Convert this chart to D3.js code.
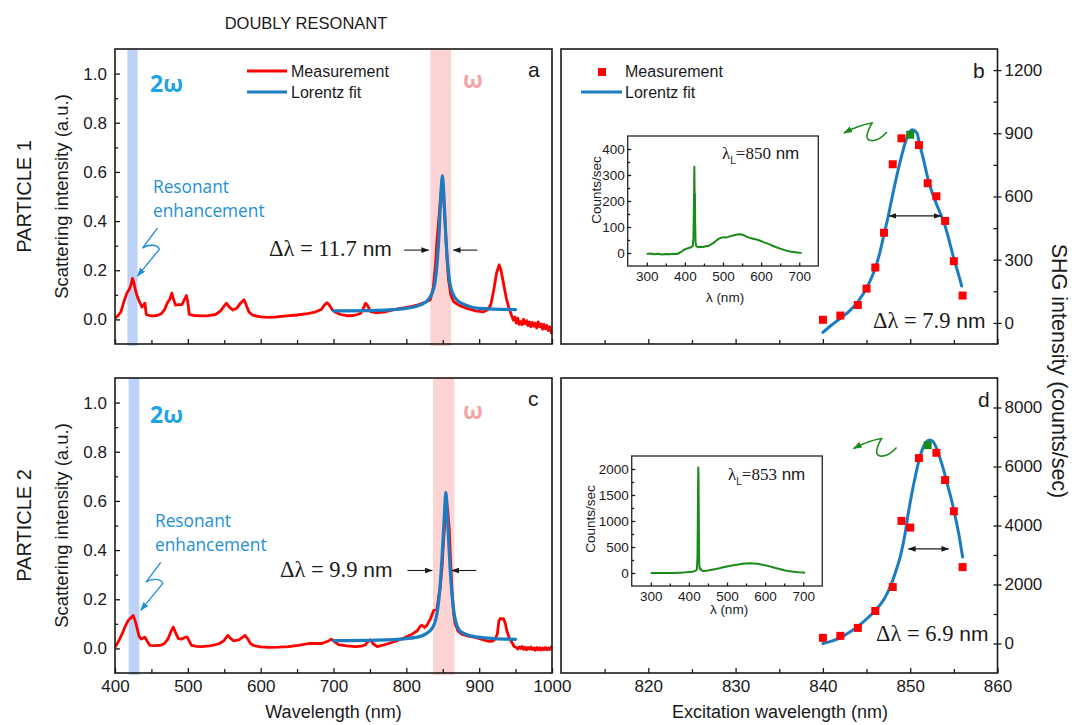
<!DOCTYPE html>
<html>
<head>
<meta charset="utf-8">
<script src="https://cdn.jsdelivr.net/npm/d3@7"></script>
<style>
  body { margin: 0; background: #fff; }
</style>
</head>
<body>
<div id="chart"></div>
<script>
// ---- tick values ----
const wlTicks = [400, 500, 600, 700, 800, 900, 1000];
const wlMinor = [450, 550, 650, 750, 850, 950];
const scatTicks = [0, 0.2, 0.4, 0.6, 0.8, 1.0];
const scatMinor = [0.1, 0.3, 0.5, 0.7, 0.9];
const excTicks = [820, 830, 840, 850, 860];
const excMinor = [815, 825, 835, 845, 855];
const shgTicksB = [0, 300, 600, 900, 1200];
const shgMinorB = [150, 450, 750, 1050];
const shgTicksD = [0, 2000, 4000, 6000, 8000];
const shgMinorD = [1000, 3000, 5000, 7000];
const insetXTicks = [300, 400, 500, 600, 700];
const insetXMinor = [350, 450, 550, 650];
const insetYTicksB = [0, 100, 200, 300, 400];
const insetYMinorB = [50, 150, 250, 350];
const insetYTicksD = [0, 500, 1000, 1500, 2000];
const insetYMinorD = [250, 750, 1250, 1750];

// ---- dark-field scattering spectra [wavelength nm, intensity a.u.] ----
const measA = [[400,0.005],[404,0.015],[408,0.03],[412,0.07],[416,0.105],[420,0.125],[422,0.14],[424,0.167],[426,0.15],[428,0.12],[431,0.09],[434,0.07],[437,0.05],[439,0.058],[441,0.066],[443,0.02],[448,0.015],[453,0.014],[458,0.016],[464,0.024],[468,0.04],[472,0.068],[475,0.08],[478,0.107],[480,0.085],[483,0.058],[488,0.06],[492,0.06],[496,0.085],[498,0.097],[500,0.07],[502,0.02],[508,0.016],[517,0.014],[528,0.015],[538,0.02],[545,0.035],[550,0.055],[553,0.066],[557,0.05],[562,0.038],[567,0.045],[572,0.065],[577,0.08],[580,0.06],[584,0.03],[589,0.017],[600,0.01],[610,0.008],[622,0.01],[636,0.014],[650,0.018],[664,0.024],[675,0.03],[683,0.04],[688,0.06],[691,0.068],[694,0.06],[698,0.04],[703,0.028],[710,0.02],[718,0.015],[728,0.016],[737,0.024],[741,0.045],[744,0.066],[747,0.055],[751,0.032],[758,0.028],[769,0.03],[780,0.038],[792,0.045],[803,0.05],[815,0.058],[826,0.07],[833,0.08],[837,0.13],[840,0.22],[842,0.32],[845,0.42],[847,0.5],[849,0.55],[851,0.5],[853.5,0.38],[856,0.24],[858,0.16],[861,0.1],[865,0.072],[872,0.058],[883,0.045],[895,0.035],[906,0.031],[912,0.04],[916,0.06],[920,0.12],[924,0.19],[927.5,0.222],[930,0.2],[933.5,0.145],[937,0.09],[940.5,0.05],[944,0.02],[947,-0.003],[949,0.01],[951,-0.015],[953,0.005],[955,-0.02],[957,-0.008],[959,-0.022],[961,0.0],[963,-0.018],[965,-0.005],[967,-0.025],[969,-0.01],[971,-0.03],[973,-0.012],[975,-0.028],[977,-0.015],[979,-0.035],[981,-0.01],[983,-0.03],[985,-0.018],[987,-0.04],[989,-0.02],[991,-0.038],[993,-0.025],[995,-0.045],[997,-0.03],[999,-0.055],[1000,-0.045]];
const fitA = [[700,0.035],[760,0.037],[800,0.045],[820,0.06],[830,0.08],[838,0.13],[842,0.22],[845,0.35],[847,0.48],[849.5,0.585],[852,0.48],[854,0.35],[857,0.22],[861,0.13],[869,0.08],[880,0.06],[900,0.045],[950,0.04]];
const measC = [[400,0.005],[405,0.03],[410,0.06],[414,0.09],[418,0.113],[422,0.125],[425,0.134],[428,0.11],[430,0.086],[433,0.05],[436,0.038],[439,0.042],[441,0.046],[444,0.03],[448,0.012],[455,0.011],[462,0.012],[468,0.02],[473,0.04],[477,0.07],[480,0.087],[483,0.065],[487,0.04],[492,0.038],[496,0.045],[499,0.047],[502,0.03],[505,0.012],[512,0.008],[519,0.007],[530,0.01],[542,0.018],[549,0.03],[555,0.053],[559,0.04],[563,0.031],[570,0.035],[575,0.045],[578.5,0.053],[582,0.04],[586,0.02],[590,0.012],[600,0.006],[611,0.004],[625,0.005],[638,0.007],[652,0.012],[666,0.02],[684,0.02],[693,0.03],[697,0.038],[701,0.028],[707,0.015],[718,0.01],[730,0.007],[738,0.009],[744,0.015],[748,0.03],[750.5,0.035],[754,0.02],[760,0.007],[770,0.015],[780,0.024],[790,0.035],[799,0.045],[808,0.058],[815,0.072],[819,0.09],[821.5,0.094],[825,0.085],[828,0.093],[833,0.12],[837.5,0.154],[842,0.16],[844,0.2],[846.5,0.25],[849,0.33],[851,0.43],[853,0.52],[855.5,0.59],[857,0.56],[859,0.48],[861,0.34],[862.7,0.235],[865,0.14],[867,0.1],[871,0.07],[876,0.058],[885,0.05],[895,0.045],[905,0.036],[913,0.029],[919,0.03],[922,0.038],[925,0.06],[927,0.11],[929,0.122],[931,0.12],[933.5,0.121],[936,0.1],[938,0.072],[941,0.045],[945,0.024],[948,0.008],[951,0.004],[953,-0.002],[955,0.006],[957,0.0],[959,0.008],[961,-0.004],[963,0.005],[965,-0.006],[967,0.004],[969,-0.003],[971,0.006],[973,-0.005],[975,0.002],[977,-0.008],[979,0.004],[981,-0.006],[983,0.003],[985,-0.007],[987,0.002],[989,-0.005],[991,0.004],[993,-0.006],[995,0.002],[997,-0.004],[999,0.006],[1000,0.002]];
const fitC = [[700,0.032],[760,0.034],[800,0.04],[820,0.05],[835,0.08],[842,0.14],[846,0.24],[849,0.37],[852,0.53],[854.3,0.635],[857,0.5],[860,0.33],[863,0.21],[867,0.12],[874,0.07],[890,0.05],[920,0.04],[950,0.037]];
const bandsA = { blue: [417, 431], pink: [833, 861.5] };
const bandsC = { blue: [418.7, 433.4], pink: [836.6, 866] };

// ---- SHG excitation spectra [excitation nm, counts/sec] ----
const shgB = [[840,15],[842,35],[844,85],[845,163],[846,263],[847,428],[848,753],[849,876],[850,893],[851,844],[852,663],[853,601],[854,484],[855,293],[856,130]];
const fitB = [[840,-45],[841,-10],[842,22],[843,55],[844,100],[845,165],[846,260],[846.5,330],[847,420],[847.5,510],[848,610],[848.5,705],[849,790],[849.5,865],[850.2,917],[850.8,900],[851,860],[851.5,780],[852,690],[852.5,620],[853,565],[853.5,515],[854,460],[854.5,385],[855,305],[855.5,235],[855.9,175]];
const shgD = [[840,192],[842,259],[844,529],[846,1103],[848,1914],[849,4155],[850,3930],[851,6284],[852,6723],[853,6464],[854,5541],[855,4482],[856,2590]];
const fitD = [[840,0],[841,80],[842,200],[843,370],[844,580],[845,830],[846,1120],[847,1500],[847.7,1914],[848.3,2400],[848.9,2984],[849.4,3700],[849.8,4448],[850.2,5100],[850.6,5686],[851,6200],[851.4,6588],[851.8,6820],[852.2,6902],[852.6,6850],[852.9,6700],[853.4,6300],[853.8,5912],[854.3,5350],[854.8,4780],[855.2,4250],[855.6,3650],[856,2930]];
const peakB = 850, peakD = 852;

// ---- inset emission spectra [lambda nm, counts/sec] ----
const specB = [[300,-4],[310,-2],[320,-5],[330,-3],[340,-6],[350,-4],[360,-5],[370,-3],[379,-4],[385,0],[390,4],[395,10],[401,15],[408,18],[414,21],[418,24],[421,28],[422.5,60],[423.3,150],[424.2,240],[424.8,332],[425.3,260],[425.8,150],[426.3,230],[427,120],[428,40],[430,26],[435,22],[440,24],[447,23],[455,26],[463,28],[470,34],[478,42],[486,52],[494,58],[502,61],[510,60],[518,64],[526,67],[534,70],[542,72],[550,71],[558,66],[566,60],[574,57],[582,54],[590,51],[598,47],[606,42],[614,38],[622,33],[630,28],[640,22],[650,17],[660,12],[670,8],[680,5],[690,3],[700,1],[706,0]];
const specD = [[300,0],[310,-2],[320,1],[330,-1],[340,0],[350,2],[360,0],[370,3],[380,5],[390,12],[400,20],[410,25],[418,45],[421,70],[422.5,300],[423.3,900],[424,1600],[424.6,2030],[425.2,1900],[425.8,1300],[426.5,600],[427.3,150],[428.5,80],[430,95],[432,60],[436,40],[440,40],[450,50],[460,62],[470,75],[480,90],[490,110],[500,125],[510,140],[520,152],[530,165],[540,176],[550,184],[560,188],[570,185],[580,178],[590,165],[600,150],[610,132],[620,112],[630,92],[640,72],[650,52],[660,38],[670,28],[680,20],[690,12],[700,8],[705,4]];

const SANS = 'Arial, "Liberation Sans", sans-serif';
const SERIF = '"Times New Roman", "Liberation Serif", serif';
const SOFT = '"Open Sans", "Noto Sans", sans-serif';
const RED = '#ff0000', BLUE = '#1b7dc1', GREEN = '#1a8a1a', INK = '#1a1a1a';

const W = 1075, H = 725;
const svg = d3.select('#chart').append('svg')
  .attr('width', W)
  .attr('height', H)
  .style('font-family', SANS);
svg.append('rect').attr('width', W).attr('height', H).attr('fill', '#fff');
const defs = svg.append('defs');

function arrowMarker(id, color, len) {
  defs.append('marker')
    .attr('id', id)
    .attr('viewBox', '0 0 10 10')
    .attr('refX', 9).attr('refY', 5)
    .attr('markerUnits', 'userSpaceOnUse')
    .attr('markerWidth', len).attr('markerHeight', len)
    .attr('orient', 'auto-start-reverse')
    .append('path')
      .attr('d', 'M0,1.5 L10,5 L0,8.5 Z')
      .attr('fill', color);
}
arrowMarker('ah-ink', INK, 8);
arrowMarker('ah-blue', '#1e8fd6', 9);
arrowMarker('ah-green', GREEN, 9);

let clipCount = 0;
function clipRect(x0, y0, x1, y1) {
  const id = 'clip' + (clipCount++);
  defs.append('clipPath').attr('id', id).append('rect')
    .attr('x', x0).attr('y', y0).attr('width', x1 - x0).attr('height', y1 - y0);
  return `url(#${id})`;
}

// draw an axis with the domain line removed, styled like the figure
function putAxis(g, axis, tx, ty, size) {
  g.append('g')
    .attr('transform', `translate(${tx},${ty})`)
    .call(axis)
    .call(s => s.select('.domain').remove())
    .attr('font-family', SANS)
    .attr('font-size', size || 17)
    .attr('color', INK)
    .selectAll('line').attr('stroke-width', 1.3);
}

function frame(g, x0, y0, x1, y1, w, col) {
  g.append('rect')
    .attr('x', x0).attr('y', y0)
    .attr('width', x1 - x0).attr('height', y1 - y0)
    .attr('fill', 'none')
    .attr('stroke', col || INK)
    .attr('stroke-width', w || 1.6);
}

// ---------------- left panels: scattering spectra ----------------
function spectrumPanel(p) {
  const x = d3.scaleLinear().domain([400, 1000]).range([p.x0, p.x1]);
  const y = d3.scaleLinear().domain([-0.1, 1.1]).range([p.y1, p.y0]);
  const g = svg.append('g');

  g.append('rect')
    .attr('x', x(p.bands.blue[0])).attr('y', p.y0)
    .attr('width', x(p.bands.blue[1]) - x(p.bands.blue[0]))
    .attr('height', p.y1 - p.y0 + 2)
    .attr('fill', '#bdd2f8');
  g.append('rect')
    .attr('x', x(p.bands.pink[0])).attr('y', p.y0)
    .attr('width', x(p.bands.pink[1]) - x(p.bands.pink[0]))
    .attr('height', p.y1 - p.y0 + 2)
    .attr('fill', '#fdd3d3');

  const clip = clipRect(p.x0, p.y0, p.x1, p.y1);
  const rawLine = d3.line().x(d => x(d[0])).y(d => y(d[1]));
  const fitLine = d3.line().x(d => x(d[0])).y(d => y(d[1])).curve(d3.curveMonotoneX);

  g.append('path').datum(p.meas)
    .attr('d', rawLine)
    .attr('fill', 'none').attr('stroke', RED)
    .attr('stroke-width', 2.8).attr('stroke-linejoin', 'round')
    .attr('clip-path', clip);
  g.append('path').datum(p.fit)
    .attr('d', fitLine)
    .attr('fill', 'none').attr('stroke', BLUE)
    .attr('stroke-width', 3.2).attr('stroke-linecap', 'round')
    .attr('clip-path', clip);

  frame(g, p.x0, p.y0, p.x1, p.y1);

  putAxis(g, d3.axisLeft(y).tickValues(scatMinor).tickSize(-3).tickFormat(''), p.x0, 0);
  putAxis(g, d3.axisLeft(y).tickValues(scatTicks).tickSize(-5).tickPadding(8).tickFormat(d3.format('.1f')), p.x0, 0);
  putAxis(g, d3.axisBottom(x).tickValues(wlMinor).tickSize(-4).tickFormat(''), 0, p.y1);
  putAxis(g, d3.axisBottom(x).tickValues(wlTicks).tickSize(-5).tickPadding(7)
    .tickFormat(p.xLabels ? d3.format('d') : ''), 0, p.y1);

  // 2ω / ω labels
  g.append('text').attr('x', p.x0 + 35).attr('y', p.y0 + p.omegaY)
    .attr('font-family', SOFT).attr('font-weight', 700).attr('font-size', 23)
    .attr('fill', '#1ea3e6').text('2ω');
  g.append('text').attr('x', p.x0 + 348).attr('y', p.y0 + p.omegaY - 4)
    .attr('font-family', SOFT).attr('font-weight', 700).attr('font-size', 23)
    .attr('fill', '#f5a3a3').text('ω');
  g.append('text').attr('x', p.x0 + 413).attr('y', p.y0 + 28)
    .attr('font-size', 21).attr('fill', INK).text(p.letter);

  // resonant enhancement note with a lightning arrow to the 2ω peak
  const note = g.append('text').attr('font-family', SOFT).attr('font-size', 17.3).attr('fill', '#1e8fd6');
  note.append('tspan').attr('x', p.x0 + p.noteX).attr('y', p.y0 + p.noteY).text('Resonant');
  note.append('tspan').attr('x', p.x0 + p.noteX).attr('y', p.y0 + p.noteY + 23.5).text('enhancement');
  const tx = x(p.tip[0]), ty = y(p.tip[1]);
  g.append('path')
    .attr('d', `M${tx + 21},${ty - 49} L${tx + 6},${ty - 29} C${tx + 11},${ty - 33} ${tx + 21},${ty - 33} ${tx + 23},${ty - 28} L${tx + 1},${ty - 1}`)
    .attr('fill', 'none').attr('stroke', '#1e8fd6').attr('stroke-width', 1.3)
    .attr('marker-end', 'url(#ah-blue)');

  // FWHM annotation
  const dl = g.append('text').attr('x', p.dlPos[0]).attr('y', p.dlPos[1])
    .attr('font-size', 22.5).attr('fill', INK);
  dl.append('tspan').attr('font-family', SERIF).text(`Δλ = ${p.fwhm}`);
  dl.append('tspan').attr('font-family', SANS).attr('font-size', 21).text(' nm');
  const ay = y(p.arrowY);
  [[p.arrowL[0], p.arrowL[1]], [p.arrowR[0], p.arrowR[1]]].forEach(a => {
    g.append('line')
      .attr('x1', x(a[0])).attr('x2', x(a[1]))
      .attr('y1', ay).attr('y2', ay)
      .attr('stroke', INK).attr('stroke-width', 1.1)
      .attr('marker-end', 'url(#ah-ink)');
  });

  if (p.legend) {
    const lg = g.append('g').attr('transform', `translate(${p.x0},${p.y0})`);
    lg.append('line').attr('x1', 132).attr('x2', 172).attr('y1', 22).attr('y2', 22)
      .attr('stroke', RED).attr('stroke-width', 3);
    lg.append('line').attr('x1', 132).attr('x2', 172).attr('y1', 43).attr('y2', 43)
      .attr('stroke', BLUE).attr('stroke-width', 3.2);
    lg.append('text').attr('x', 176).attr('y', 28).attr('font-size', 16).attr('fill', INK).text('Measurement');
    lg.append('text').attr('x', 176).attr('y', 49).attr('font-size', 16).attr('fill', INK).text('Lorentz fit');
  }
}

// ---------------- right panels: SHG excitation spectra ----------------
function shgPanel(p) {
  const x = d3.scaleLinear().domain([810, 860]).range([p.x0, p.x1]);
  const y = d3.scaleLinear().domain(p.yDomain).range([p.y1, p.y0]);
  const g = svg.append('g');

  frame(g, p.x0, p.y0, p.x1, p.y1);
  putAxis(g, d3.axisBottom(x).tickValues(excMinor).tickSize(-4).tickFormat(''), 0, p.y1);
  putAxis(g, d3.axisBottom(x).tickValues(excTicks).tickSize(-5).tickPadding(7)
    .tickFormat(p.xLabels ? d3.format('d') : ''), 0, p.y1);
  putAxis(g, d3.axisRight(y).tickValues(p.yTicks.concat(p.yMinor)).tickSize(-4).tickFormat(''), p.x1, 0);
  putAxis(g, d3.axisRight(y).tickValues(p.yTicks).tickSize(4).tickPadding(3).tickFormat(d3.format('d')), p.x1, 0);

  const fitLine = d3.line().x(d => x(d[0])).y(d => y(d[1])).curve(d3.curveMonotoneX);
  g.append('path').datum(p.fit)
    .attr('d', fitLine)
    .attr('fill', 'none').attr('stroke', BLUE)
    .attr('stroke-width', 3).attr('stroke-linecap', 'round');

  const s = 8;
  g.selectAll('rect.pt').data(p.pts).enter().append('rect')
    .attr('class', 'pt')
    .attr('x', d => x(d[0]) - s / 2).attr('y', d => y(d[1]) - s / 2)
    .attr('width', s).attr('height', s)
    .attr('fill', d => d[0] === p.peak ? GREEN : RED);

  // FWHM double arrow
  g.append('line')
    .attr('x1', x(p.arrow[0])).attr('x2', x(p.arrow[1]))
    .attr('y1', y(p.arrow[2])).attr('y2', y(p.arrow[2]))
    .attr('stroke', INK).attr('stroke-width', 1.1)
    .attr('marker-start', 'url(#ah-ink)').attr('marker-end', 'url(#ah-ink)');

  // green squiggle pointing at the inset
  const gx = x(p.squiggle[0]), gy = y(p.squiggle[1]);
  g.append('path')
    .attr('d', `M${gx + 44},${gy - 1} Q${gx + 34},${gy + 10} ${gx + 26},${gy + 7} Q${gx + 21},${gy + 4} ${gx + 29},${gy - 10} Q${gx + 16},${gy - 8} ${gx + 1},${gy}`)
    .attr('fill', 'none').attr('stroke', GREEN).attr('stroke-width', 1.6)
    .attr('marker-end', 'url(#ah-green)');

  const dl = g.append('text').attr('x', p.dlPos[0]).attr('y', p.dlPos[1])
    .attr('font-size', 22.5).attr('fill', INK);
  dl.append('tspan').attr('font-family', SERIF).text(`Δλ = ${p.fwhm}`);
  dl.append('tspan').attr('font-family', SANS).attr('font-size', 21).text(' nm');

  g.append('text').attr('x', p.letterPos[0]).attr('y', p.letterPos[1])
    .attr('font-size', 21).attr('fill', INK).text(p.letter);

  if (p.legend) {
    const lg = g.append('g').attr('transform', `translate(${p.x0},${p.y0})`);
    lg.append('rect').attr('x', 37).attr('y', 19).attr('width', s).attr('height', s).attr('fill', RED);
    lg.append('line').attr('x1', 20).attr('x2', 61).attr('y1', 43).attr('y2', 43)
      .attr('stroke', BLUE).attr('stroke-width', 3.2);
    lg.append('text').attr('x', 64).attr('y', 28).attr('font-size', 16).attr('fill', INK).text('Measurement');
    lg.append('text').attr('x', 64).attr('y', 49).attr('font-size', 16).attr('fill', INK).text('Lorentz fit');
  }

  insetPanel(p.inset);
}

function insetPanel(q) {
  const x = d3.scaleLinear().domain([250, 750]).range([q.x0, q.x1]);
  const y = d3.scaleLinear().domain(q.yDomain).range([q.y1, q.y0]);
  const g = svg.append('g');
  g.append('rect').attr('x', q.x0).attr('y', q.y0)
    .attr('width', q.x1 - q.x0).attr('height', q.y1 - q.y0).attr('fill', '#fff');

  const line = d3.line().x(d => x(d[0])).y(d => y(d[1]));
  g.append('path').datum(q.spec)
    .attr('d', line)
    .attr('fill', 'none').attr('stroke', GREEN)
    .attr('stroke-width', 2).attr('stroke-linejoin', 'round');

  frame(g, q.x0, q.y0, q.x1, q.y1, 1.4, '#333');
  putAxis(g, d3.axisBottom(x).tickValues(insetXMinor).tickSize(-2.5).tickFormat(''), 0, q.y1, 13.5);
  putAxis(g, d3.axisBottom(x).tickValues(insetXTicks).tickSize(-3.5).tickPadding(5).tickFormat(d3.format('d')), 0, q.y1, 13.5);
  putAxis(g, d3.axisLeft(y).tickValues(q.yMinor).tickSize(-2.5).tickFormat(''), q.x0, 0, 13.5);
  putAxis(g, d3.axisLeft(y).tickValues(q.yTicks).tickSize(-3.5).tickPadding(3).tickFormat(d3.format('d')), q.x0, 0, 13.5);

  g.append('text')
    .attr('transform', `translate(${q.x0 - q.ylabelDx},${q.ylabelY}) rotate(-90)`)
    .attr('text-anchor', 'middle').attr('font-size', 13.5).attr('fill', INK)
    .text('Counts/sec');
  g.append('text')
    .attr('x', (q.x0 + q.x1) / 2 + 2).attr('y', q.xlabelY)
    .attr('text-anchor', 'middle').attr('font-size', 13.5).attr('fill', INK)
    .text('λ (nm)');

  const t = g.append('text').attr('x', q.lamPos[0]).attr('y', q.lamPos[1])
    .attr('font-size', 17).attr('fill', INK);
  t.append('tspan').attr('font-family', SERIF).text('λ');
  t.append('tspan').attr('font-size', 10).attr('dy', 5).text('L');
  t.append('tspan').attr('font-family', SERIF).attr('dy', -5).text(`=${q.laser}`);
  t.append('tspan').text(' nm');
}

// ---------------- build ----------------
spectrumPanel({
  x0: 115, x1: 552, y0: 49, y1: 344, letter: 'a', legend: true, xLabels: false,
  meas: measA, fit: fitA, bands: bandsA, omegaY: 43,
  noteX: 38, noteY: 144, tip: [429.5, 0.172],
  fwhm: '11.7', dlPos: [269, 256], arrowY: 0.282, arrowL: [797, 830.5], arrowR: [897.5, 864.5]
});
spectrumPanel({
  x0: 115, x1: 552, y0: 378, y1: 673, letter: 'c', legend: false, xLabels: true,
  meas: measC, fit: fitC, bands: bandsC, omegaY: 45,
  noteX: 40, noteY: 149, tip: [434, 0.151],
  fwhm: '9.9', dlPos: [280, 577], arrowY: 0.317, arrowL: [801.5, 835.5], arrowR: [896, 862.5]
});
shgPanel({
  x0: 561, x1: 997.5, y0: 49, y1: 344, letter: 'b', letterPos: [973, 78], legend: true, xLabels: false,
  yDomain: [-100, 1300], yTicks: shgTicksB, yMinor: shgMinorB,
  pts: shgB, fit: fitB, peak: peakB, arrow: [847.6, 853.5, 508], squiggle: [842.3, 901],
  fwhm: '7.9', dlPos: [873, 328],
  inset: {
    x0: 627.7, x1: 818.3, y0: 136, y1: 266, yDomain: [-50, 450],
    yTicks: insetYTicksB, yMinor: insetYMinorB, spec: specB, laser: 850,
    ylabelDx: 27, ylabelY: 190, xlabelY: 302, lamPos: [722, 159]
  }
});
shgPanel({
  x0: 561, x1: 997.5, y0: 378, y1: 673, letter: 'd', letterPos: [978, 407], legend: false, xLabels: true,
  yDomain: [-1000, 9000], yTicks: shgTicksD, yMinor: shgMinorD,
  pts: shgD, fit: fitD, peak: peakD, arrow: [849.8, 854.4, 3209], squiggle: [843.4, 6611],
  fwhm: '6.9', dlPos: [876, 641],
  inset: {
    x0: 631.7, x1: 822.3, y0: 456, y1: 586, yDomain: [-250, 2250],
    yTicks: insetYTicksD, yMinor: insetYMinorD, spec: specD, laser: 853,
    ylabelDx: 37, ylabelY: 519, xlabelY: 614, lamPos: [728, 480]
  }
});

// ---------------- outer labels ----------------
svg.append('text').attr('x', 306).attr('y', 29).attr('text-anchor', 'middle')
  .attr('font-size', 16.5).attr('fill', INK).text('DOUBLY RESONANT');
[['PARTICLE 1', 196.5], ['PARTICLE 2', 525.5]].forEach(d => {
  svg.append('text').attr('transform', `translate(31,${d[1]}) rotate(-90)`)
    .attr('text-anchor', 'middle').attr('font-size', 20).attr('fill', INK).text(d[0]);
  svg.append('text').attr('transform', `translate(68,${d[1]}) rotate(-90)`)
    .attr('text-anchor', 'middle').attr('font-size', 18.5).attr('fill', INK).text('Scattering intensity (a.u.)');
});
svg.append('text').attr('x', 333.5).attr('y', 718).attr('text-anchor', 'middle')
  .attr('font-size', 18).attr('fill', INK).text('Wavelength (nm)');
svg.append('text').attr('x', 780).attr('y', 718).attr('text-anchor', 'middle')
  .attr('font-size', 18).attr('fill', INK).text('Excitation wavelength (nm)');
svg.append('text').attr('transform', 'translate(1052,371) rotate(90)')
  .attr('text-anchor', 'middle').attr('font-size', 21.5).attr('fill', INK).text('SHG intensity (counts/sec)');
</script>
</body>
</html>
